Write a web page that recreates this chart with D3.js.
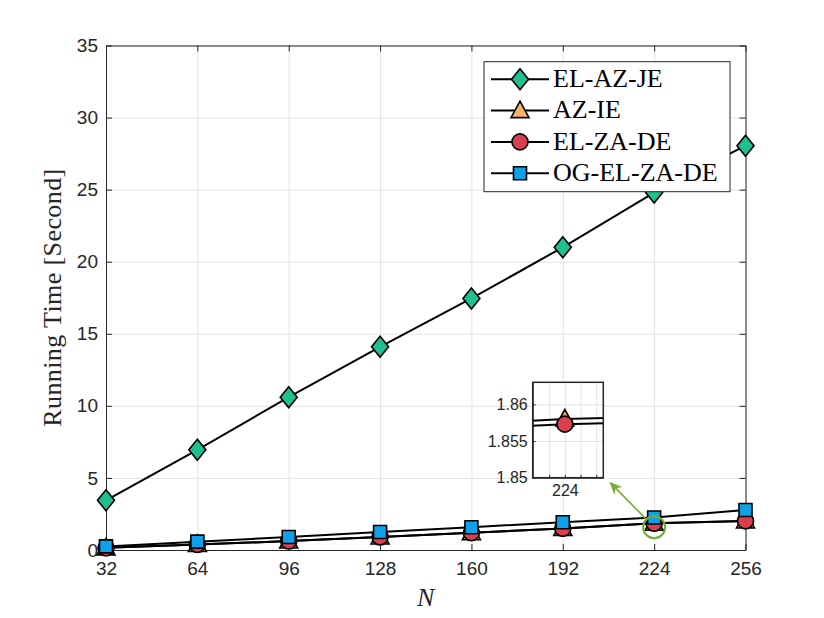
<!DOCTYPE html>
<html lang="en">
<head>
<meta charset="utf-8">
<title>Running Time</title>
<script src="https://d3js.org/d3.v7.min.js"></script>
<style>
body{margin:0;background:#fff;}
.axis text{font-family:"Liberation Sans",Arial,sans-serif;fill:#262626;}
.axis path,.axis line{stroke:#262626;}
.grid line{stroke:#e3e3e3;}
.grid path{display:none;}
.serif{font-family:"Liberation Serif","Times New Roman",serif;}
</style>
</head>
<body>
<svg id="chart" width="824" height="618"></svg>
<script>
// data
const nValues = [32, 64, 96, 128, 160, 192, 224, 256];
const elAzJe = [3.45, 6.95, 10.6, 14.1, 17.45, 21.0, 24.8, 28.05];
const azIe = [0.15, 0.38, 0.62, 0.9, 1.2, 1.5, 1.8580, 2.02];
const elZaDe = [0.15, 0.38, 0.62, 0.9, 1.2, 1.5, 1.8573, 2.02];
const ogElZaDe = [0.25, 0.58, 0.9, 1.25, 1.58, 1.93, 2.25, 2.78];
const seriesNames = ["EL-AZ-JE", "AZ-IE", "EL-ZA-DE", "OG-EL-ZA-DE"];
const seriesColors = ["#1fbf8f", "#f7b267", "#d9404f", "#0fa0ea"];
const seriesMarkers = ["diamond", "triangle", "circle", "square"];
const xTicks = [32, 64, 96, 128, 160, 192, 224, 256];
const yTicks = [0, 5, 10, 15, 20, 25, 30, 35];
// inset (zoom around N = 224)
const insetXTicks = [224];
const insetXGrid = [223.99, 224, 224.01, 224.02];
const insetYTicks = [1.85, 1.855, 1.86];
const zoomN = 224;

const series = [elAzJe, azIe, elZaDe, ogElZaDe].map((vals, i) => ({
    name: seriesNames[i],
    color: seriesColors[i],
    marker: seriesMarkers[i],
    points: nValues.map((n, j) => ({n: n, v: vals[j]}))
}));

const svg = d3.select("#chart");
const pL = 106, pR = 745.5, pT = 45.5, pB = 550;

const x = d3.scaleLinear().domain([32, 256]).range([pL, pR]);
const y = d3.scaleLinear().domain([0, 35]).range([pB, pT]);

function markerPath(type){
    switch(type){
        case "diamond": return "M0,-10.5L8.5,0L0,10.5L-8.5,0Z";
        case "triangle": return "M0,-9.5L9,7L-9,7Z";
        case "circle": return "M8,0A8,8 0 1,1 -8,0A8,8 0 1,1 8,0Z";
        default: return "M-6.5,-6.5H6.5V6.5H-6.5Z";
    }
}

//grid
svg.append("g").attr("class", "grid")
    .attr("transform", `translate(0,${pB})`)
    .call(d3.axisBottom(x).tickValues(xTicks).tickSize(-(pB - pT)).tickFormat(""));
svg.append("g").attr("class", "grid")
    .attr("transform", `translate(${pL},0)`)
    .call(d3.axisLeft(y).tickValues(yTicks).tickSize(-(pR - pL)).tickFormat(""));

//axes (ticks inside, box on)
svg.append("g").attr("class", "axis")
    .attr("transform", `translate(0,${pB})`)
    .call(d3.axisBottom(x).tickValues(xTicks).tickSizeInner(-6).tickSizeOuter(0).tickPadding(12))
    .call(g => g.selectAll("text").style("font-size", "19px"));
svg.append("g").attr("class", "axis")
    .attr("transform", `translate(0,${pT})`)
    .call(d3.axisTop(x).tickValues(xTicks).tickSizeInner(-6).tickSizeOuter(0).tickFormat(""));
svg.append("g").attr("class", "axis")
    .attr("transform", `translate(${pL},0)`)
    .call(d3.axisLeft(y).tickValues(yTicks).tickSizeInner(-6).tickSizeOuter(0).tickPadding(8))
    .call(g => g.selectAll("text").style("font-size", "19px"));
svg.append("g").attr("class", "axis")
    .attr("transform", `translate(${pR},0)`)
    .call(d3.axisRight(y).tickValues(yTicks).tickSizeInner(-6).tickSizeOuter(0).tickFormat(""));

//axis titles
svg.append("text").attr("class", "serif")
    .attr("x", (pL + pR) / 2).attr("y", 606)
    .attr("text-anchor", "middle").style("font-size", "26px").style("font-style", "italic")
    .attr("fill", "#262626")
    .text("N");
svg.append("text").attr("class", "serif")
    .attr("transform", `translate(61,${(pT + pB) / 2}) rotate(-90)`)
    .attr("text-anchor", "middle").style("font-size", "26px")
    .attr("textLength", 258).attr("lengthAdjust", "spacing")
    .attr("fill", "#262626")
    .text("Running Time [Second]");

//series
const line = d3.line().x(d => x(d.n)).y(d => y(d.v));
series.forEach(s => {
    const g = svg.append("g");
    g.append("path").datum(s.points)
        .attr("d", line).attr("fill", "none").attr("stroke", "#000").attr("stroke-width", 2);
    g.selectAll("path.mk").data(s.points).join("path").attr("class", "mk")
        .attr("d", markerPath(s.marker))
        .attr("transform", d => `translate(${x(d.n)},${y(d.v)})`)
        .attr("fill", s.color).attr("stroke", "#000").attr("stroke-width", 1.6);
});

//legend
const lg = svg.append("g");
const lgLeft = 484, lgTop = 61.7, lgW = 246, lgH = 130, rowH = 31.3;
lg.append("rect").attr("x", lgLeft).attr("y", lgTop).attr("width", lgW).attr("height", lgH)
    .attr("fill", "#fff").attr("stroke", "#262626").attr("stroke-width", 1);
series.forEach((s, i) => {
    const cy = lgTop + 17.6 + i * rowH;
    lg.append("line").attr("x1", lgLeft + 7).attr("x2", lgLeft + 65).attr("y1", cy).attr("y2", cy)
        .attr("stroke", "#000").attr("stroke-width", 2);
    lg.append("path").attr("d", markerPath(s.marker))
        .attr("transform", `translate(${lgLeft + 36},${cy})`)
        .attr("fill", s.color).attr("stroke", "#000").attr("stroke-width", 1.6);
    lg.append("text").attr("class", "serif")
        .attr("x", lgLeft + 69).attr("y", cy).attr("dy", "0.3em")
        .style("font-size", "26px").attr("fill", "#000")
        .text(s.name);
});

//inset
const iL = 532.7, iR = 603.3, iT = 382.3, iB = 477.7;
const xi = d3.scaleLinear().domain([223.9795, 224.0245]).range([iL, iR]);
const yi = d3.scaleLinear().domain([1.85, 1.863]).range([iB, iT]);
const inset = svg.append("g");
inset.append("rect").attr("x", iL).attr("y", iT).attr("width", iR - iL).attr("height", iB - iT).attr("fill", "#fff");
inset.append("g").attr("class", "grid")
    .attr("transform", `translate(0,${iB})`)
    .call(d3.axisBottom(xi).tickValues(insetXGrid).tickSize(-(iB - iT)).tickFormat(""));
inset.append("g").attr("class", "grid")
    .attr("transform", `translate(${iL},0)`)
    .call(d3.axisLeft(yi).tickValues(insetYTicks).tickSize(-(iR - iL)).tickFormat(""));
inset.append("g").attr("class", "axis")
    .attr("transform", `translate(0,${iB})`)
    .call(d3.axisBottom(xi).tickValues(insetXGrid).tickSizeInner(-3).tickSizeOuter(0).tickPadding(7)
        .tickFormat(d => insetXTicks.includes(d) ? d3.format("d")(d) : ""))
    .call(g => g.selectAll("text").style("font-size", "16px"));
inset.append("g").attr("class", "axis")
    .attr("transform", `translate(${iL},0)`)
    .call(d3.axisLeft(yi).tickValues(insetYTicks).tickSizeInner(-3).tickSizeOuter(0).tickPadding(5)
        .tickFormat(d => d3.format("")(d)))
    .call(g => g.selectAll("text").style("font-size", "16px"));
svg.append("clipPath").attr("id", "insetClip")
    .append("rect").attr("x", iL).attr("y", iT).attr("width", iR - iL).attr("height", iB - iT);
const lineI = d3.line().x(d => xi(d.n)).y(d => yi(d.v));
const insetData = inset.append("g").attr("clip-path", "url(#insetClip)");
series.forEach(s => {
    insetData.append("path").datum(s.points)
        .attr("d", lineI).attr("fill", "none").attr("stroke", "#000").attr("stroke-width", 2);
    insetData.selectAll(null).data(s.points.filter(d => d.n === zoomN)).join("path")
        .attr("d", markerPath(s.marker))
        .attr("transform", d => `translate(${xi(d.n)},${yi(d.v)})`)
        .attr("fill", s.color).attr("stroke", "#000").attr("stroke-width", 1.6);
});
inset.append("rect").attr("x", iL).attr("y", iT).attr("width", iR - iL).attr("height", iB - iT)
    .attr("fill", "none").attr("stroke", "#262626").attr("stroke-width", 1.5);

//zoom annotation: circle + arrow to inset
const green = "#77ac30";
const cx = x(zoomN), cy = y(elZaDe[nValues.indexOf(zoomN)]) + 4, r = 11;
svg.append("circle").attr("cx", cx).attr("cy", cy).attr("r", r)
    .attr("fill", "none").attr("stroke", green).attr("stroke-width", 2);
const ax2 = iR + 6, ay2 = iB + 4;
const dx = ax2 - cx, dy = ay2 - cy, len = Math.hypot(dx, dy);
const ux = dx / len, uy = dy / len;
const ax1 = cx + ux * r, ay1 = cy + uy * r;
svg.append("line").attr("x1", ax1).attr("y1", ay1).attr("x2", ax2 - ux * 8).attr("y2", ay2 - uy * 8)
    .attr("stroke", green).attr("stroke-width", 1.6);
const hl = 13, hw = 5.5;
const bx = ax2 - ux * hl, by = ay2 - uy * hl;
const nx = ax2 - ux * hl * 0.7, ny = ay2 - uy * hl * 0.7;
svg.append("path")
    .attr("d", `M${ax2},${ay2}L${bx - uy * hw},${by + ux * hw}L${nx},${ny}L${bx + uy * hw},${by - ux * hw}Z`)
    .attr("fill", green);
</script>
</body>
</html>
